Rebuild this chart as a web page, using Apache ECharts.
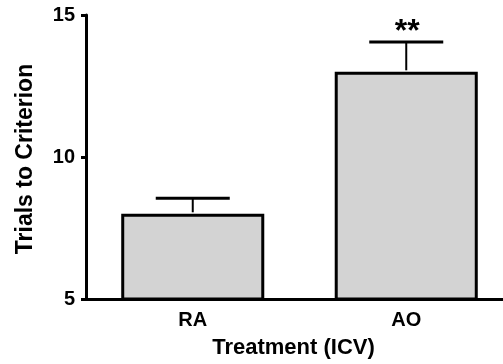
<!DOCTYPE html>
<html>
<head>
<meta charset="utf-8">
<script src="https://cdn.jsdelivr.net/npm/echarts@6/dist/echarts.min.js"></script>
<style>
  html, body { margin: 0; padding: 0; background: #fff; }
  #chart { width: 503px; height: 364px; }
</style>
</head>
<body>
<div id="chart"></div>
<script>
// data
let categories = ['RA', 'AO'];
let means = [8.0, 13.0];
let errUpper = [8.55, 14.05];
let marks = ['', '**'];

let myEchart = echarts.init(document.getElementById('chart'));
let font = 'Liberation Sans, Arial, sans-serif';

let opt = {
	animation: false,
	grid: {
		left: 86,
		top: 15,
		width: 427,
		height: 284,
		outerBoundsMode: 'none',
		containLabel: false
	},
	xAxis: {
		type: 'category',
		data: categories,
		name: 'Treatment (ICV)',
		nameLocation: 'middle',
		nameGap: 38,
		nameTextStyle: { color: '#000', fontWeight: 'bold', fontSize: 22, fontFamily: font, padding: [0, 12, 0, 0] },
		axisLine: { lineStyle: { color: '#000', width: 3 } },
		axisTick: { show: false },
		axisLabel: { color: '#000', fontWeight: 'bold', fontSize: 20, fontFamily: font, margin: 11 }
	},
	yAxis: {
		type: 'value',
		min: 5,
		max: 15,
		interval: 5,
		name: 'Trials to Criterion',
		nameLocation: 'middle',
		nameGap: 49,
		nameTextStyle: { color: '#000', fontWeight: 'bold', fontSize: 23, fontFamily: font, padding: [0, 4, 0, 0] },
		axisLine: { show: true, lineStyle: { color: '#000', width: 3 } },
		axisTick: { show: true, length: 5, lineStyle: { color: '#000', width: 3 } },
		axisLabel: { color: '#000', fontWeight: 'bold', fontSize: 20, fontFamily: font, margin: 11 },
		splitLine: { show: false }
	},
	series: [
		{
			type: 'bar',
			data: means,
			barWidth: '67%',
			itemStyle: { color: '#d3d3d3', borderColor: '#000', borderWidth: 3 },
			z: 2
		},
		{
			type: 'custom',
			data: categories.map((c, i) => [i, means[i], errUpper[i]]),
			z: 3,
			renderItem: function (params, api) {
				let base = api.coord([api.value(0), api.value(1)]);
				let top = api.coord([api.value(0), api.value(2)]);
				let capHalf = 37;
				let mark = marks[params.dataIndex];
				return {
					type: 'group',
					children: [
						{
							type: 'line',
							shape: { x1: base[0], y1: base[1] - 1.5, x2: top[0], y2: top[1] },
							style: { stroke: '#000', lineWidth: 2 }
						},
						{
							type: 'line',
							shape: { x1: top[0] - capHalf, y1: top[1], x2: top[0] + capHalf, y2: top[1] },
							style: { stroke: '#000', lineWidth: 3 }
						},
						{
							type: 'text',
							style: {
								text: mark,
								x: top[0] + 1,
								y: top[1] + 6,
								align: 'center',
								verticalAlign: 'bottom',
								fontSize: 32,
								fontWeight: 'bold',
								fontFamily: font,
								fill: '#000'
							}
						}
					]
				};
			}
		}
	]
};
myEchart.setOption(opt);
</script>
</body>
</html>
